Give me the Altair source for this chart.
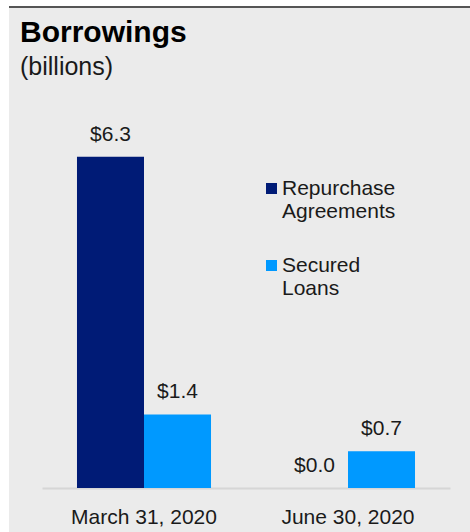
import altair as alt
import pandas as pd

dates = ["March 31, 2020", "June 30, 2020"]
series = ["Repurchase Agreements", "Secured Loans"]
repurchase = [6.3, 0.0]
secured = [1.4, 0.7]
colors = ["#001B76", "#0099FF"]

rows = []
for i, d in enumerate(dates):
    rows.append({"date": d, "series": series[0], "value": repurchase[i]})
    rows.append({"date": d, "series": series[1], "value": secured[i]})
df = pd.DataFrame(rows)
df["label"] = df["value"].map(lambda v: f"${v:.1f}")

x_enc = alt.X("date:N", sort=dates, title=None,
              scale=alt.Scale(paddingInner=0.343, paddingOuter=0.1715),
              axis=alt.Axis(labelAngle=0, labelFontSize=21, labelColor="#1a1a1a",
                            labelFont="Liberation Sans", labelPadding=18,
                            ticks=False, domainColor="#D6D6D6", domainWidth=2))
xo_enc = alt.XOffset("series:N", sort=series,
                     scale=alt.Scale(paddingInner=0, paddingOuter=0))
y_enc = alt.Y("value:Q", scale=alt.Scale(domain=[0, 7]), axis=None)

bars = alt.Chart(df).mark_bar().encode(
    x=x_enc, xOffset=xo_enc, y=y_enc,
    color=alt.Color("series:N", sort=series,
                    scale=alt.Scale(domain=series, range=colors),
                    legend=alt.Legend(title=None, orient="none", legendX=219, legendY=58,
                                      symbolType="square", symbolSize=121,
                                      symbolStrokeWidth=0,
                                      labelFontSize=21, labelFont="Liberation Sans",
                                      labelColor="#1a1a1a", labelLimit=0, labelOffset=0,
                                      labelBaseline="middle", rowPadding=32,
                                      labelExpr="split(datum.label, ' ')")),
)

texts = alt.Chart(df).mark_text(fontSize=21, font="Liberation Sans", color="#1a1a1a",
                                baseline="alphabetic", dy=-16).encode(
    x=alt.X("date:N", sort=dates), xOffset=alt.XOffset("series:N", sort=series),
    y="value:Q", text="label:N")

deco = pd.DataFrame({"k": [0]})
left_strip = alt.Chart(deco).mark_rect(color="white").encode(
    x=alt.value(-42), x2=alt.value(-33), y=alt.value(-120), y2=alt.value(412))
top_strip = alt.Chart(deco).mark_rect(color="white").encode(
    x=alt.value(-42), x2=alt.value(428), y=alt.value(-120), y2=alt.value(-114))
top_line = alt.Chart(deco).mark_rect(color="#555555").encode(
    x=alt.value(-33), x2=alt.value(428), y=alt.value(-114), y2=alt.value(-112))

chart = alt.layer(left_strip, top_strip, top_line, bars, texts).properties(
    width=408, height=368,
    title=alt.TitleParams("Borrowings", subtitle="(billions)", anchor="start",
                          frame="group", dx=-22, offset=-80, baseline="top",
                          font="Liberation Sans", fontSize=30, fontWeight="bold",
                          color="#000000", subtitleFont="Liberation Sans",
                          subtitleFontSize=25, subtitleColor="#1a1a1a",
                          subtitlePadding=7),
    autosize=alt.AutoSizeParams(type="none"),
    padding={"left": 42, "right": 20, "top": 120, "bottom": 44},
).configure(background="#EBEBEB").configure_view(stroke=None)

chart.save("out.html", embed_options={"renderer": "svg", "actions": False})
